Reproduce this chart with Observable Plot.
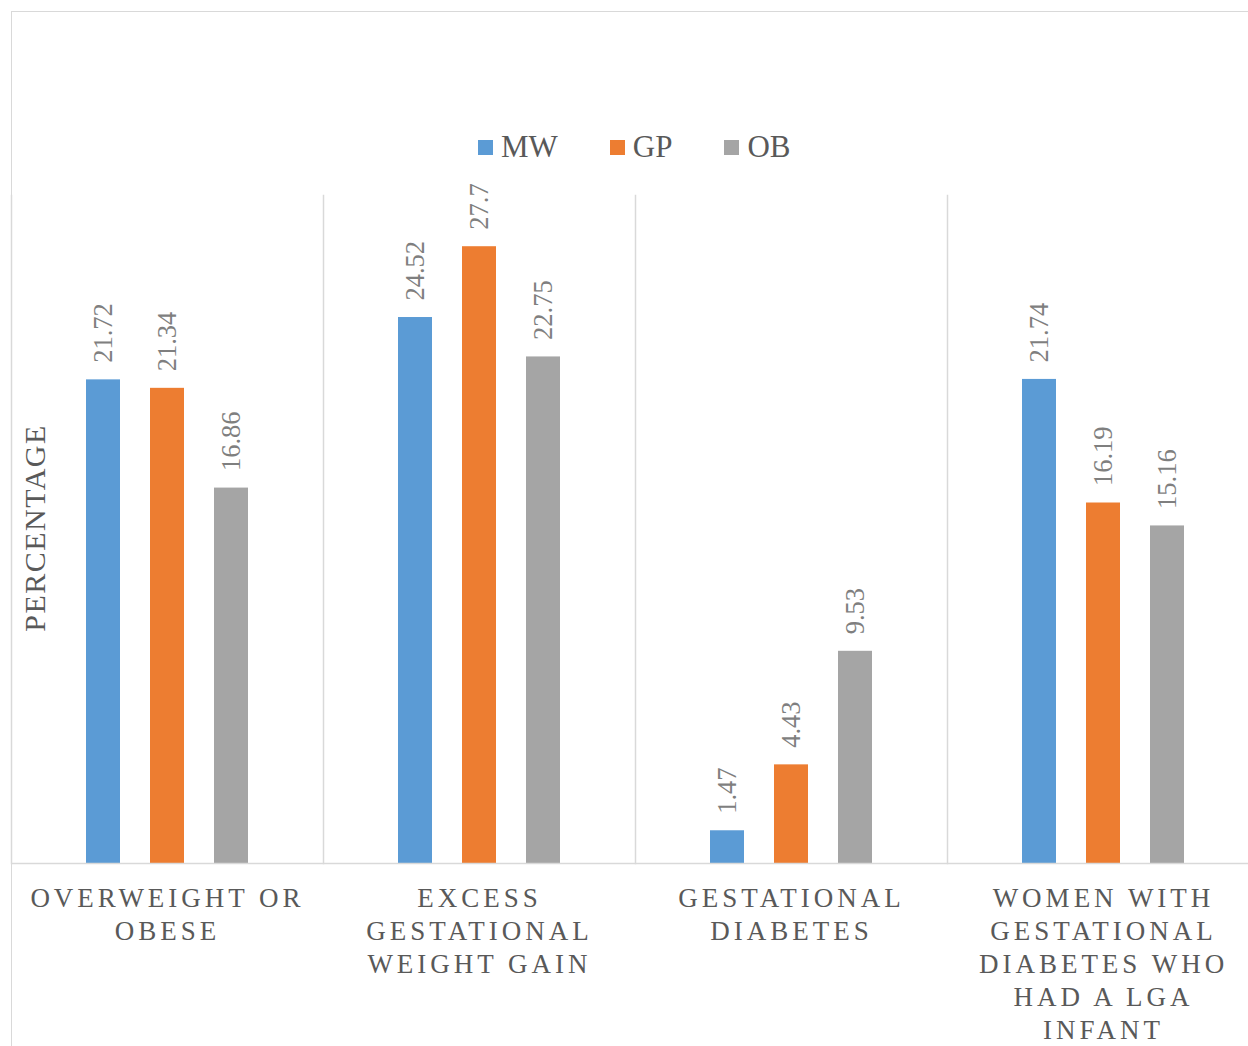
<!DOCTYPE html>
<html>
<head>
<meta charset="utf-8">
<script src="https://cdn.jsdelivr.net/npm/d3@7"></script>
<script src="https://cdn.jsdelivr.net/npm/@observablehq/plot@0.6"></script>
<style>
  html, body { margin: 0; padding: 0; background: #fff; overflow: hidden; }
  #wrap { position: relative; width: 1248px; height: 1046px; overflow: hidden; font-family: "Liberation Serif", "Times New Roman", serif; }
  #border { position: absolute; left: 11px; top: 11px; width: 1300px; height: 1100px; border: 1.5px solid #d9d9d9; box-sizing: border-box; }
  #chart { position: absolute; left: 0; top: 0; width: 1259px; }
  #chart svg { max-width: none !important; }
  #legend { position: absolute; left: 478px; top: 131px; display: flex; align-items: center; gap: 52px; color: #595959; font-size: 31px; line-height: 32px; }
  .item { display: flex; align-items: center; gap: 8px; }
  .sw { width: 15px; height: 15px; display: inline-block; }
  #ylabel { position: absolute; left: 35px; top: 528px; transform: translate(-50%, -50%) rotate(-90deg); white-space: nowrap; font-size: 30px; color: #595959; letter-spacing: 1.5px; }
  g[font-size="27"] text { letter-spacing: 4px; }
</style>
</head>
<body>
<div id="wrap">
  <div id="border"></div>
  <div id="chart"></div>
  <div id="legend"></div>
  <div id="ylabel">PERCENTAGE</div>
</div>
<script>
const categories = ["Overweight or obese", "Excess gestational weight gain", "Gestational diabetes", "Women with gestational diabetes who had a LGA infant"];
const categoryLabels = ["OVERWEIGHT OR\nOBESE", "EXCESS\nGESTATIONAL\nWEIGHT GAIN", "GESTATIONAL\nDIABETES", "WOMEN WITH\nGESTATIONAL\nDIABETES WHO\nHAD A LGA\nINFANT"];
const series = ["MW", "GP", "OB"];
const mwValues = [21.72, 24.52, 1.47, 21.74];
const gpValues = [21.34, 27.7, 4.43, 16.19];
const obValues = [16.86, 22.75, 9.53, 15.16];
const colors = ["#5b9bd5", "#ed7d31", "#a5a5a5"];

const seriesValues = [mwValues, gpValues, obValues];
const data = [];
categories.forEach((c, i) => {
  series.forEach((s, j) => {
    data.push({category: c, series: s, value: seriesValues[j][i]});
  });
});

const chart = Plot.plot({
  width: 1259,
  height: 1046,
  marginLeft: 11,
  marginRight: 0,
  marginTop: 195,
  marginBottom: 183,
  style: {fontFamily: '"Liberation Serif", "Times New Roman", serif', background: "transparent", overflow: "visible", maxWidth: "none"},
  fx: {domain: categories, padding: 0, axis: null},
  x: {domain: series, paddingInner: 0.469, paddingOuter: 1.172, axis: null},
  y: {domain: [0, 30], axis: null},
  color: {domain: series, range: colors},
  marks: [
    Plot.frame({anchor: "left", stroke: "#d9d9d9", strokeWidth: 1.5}),
    Plot.barY(data, {fx: "category", x: "series", y: "value", fill: "series"}),
    Plot.ruleY([0], {stroke: "#d9d9d9", strokeWidth: 1.5}),
    Plot.text(data, {
      fx: "category", x: "series", y: "value",
      text: d => String(d.value),
      rotate: -90, textAnchor: "start", lineAnchor: "middle",
      dy: -17, fontSize: 26.5, fill: "#7f7f7f"
    }),
    Plot.text(categories, {
      fx: d => d,
      text: d => categoryLabels[categories.indexOf(d)],
      frameAnchor: "bottom", lineAnchor: "top", textAnchor: "middle",
      dx: 0, dy: 20.5, lineHeight: 1.22, fontSize: 27, fill: "#595959"
    })
  ]
});
document.getElementById("chart").appendChild(chart);

const legend = document.getElementById("legend");
series.forEach((s, i) => {
  const item = document.createElement("div");
  item.className = "item";
  const sw = document.createElement("span");
  sw.className = "sw";
  sw.style.background = colors[i];
  const t = document.createElement("span");
  t.textContent = s;
  item.appendChild(sw);
  item.appendChild(t);
  legend.appendChild(item);
});
</script>
</body>
</html>
